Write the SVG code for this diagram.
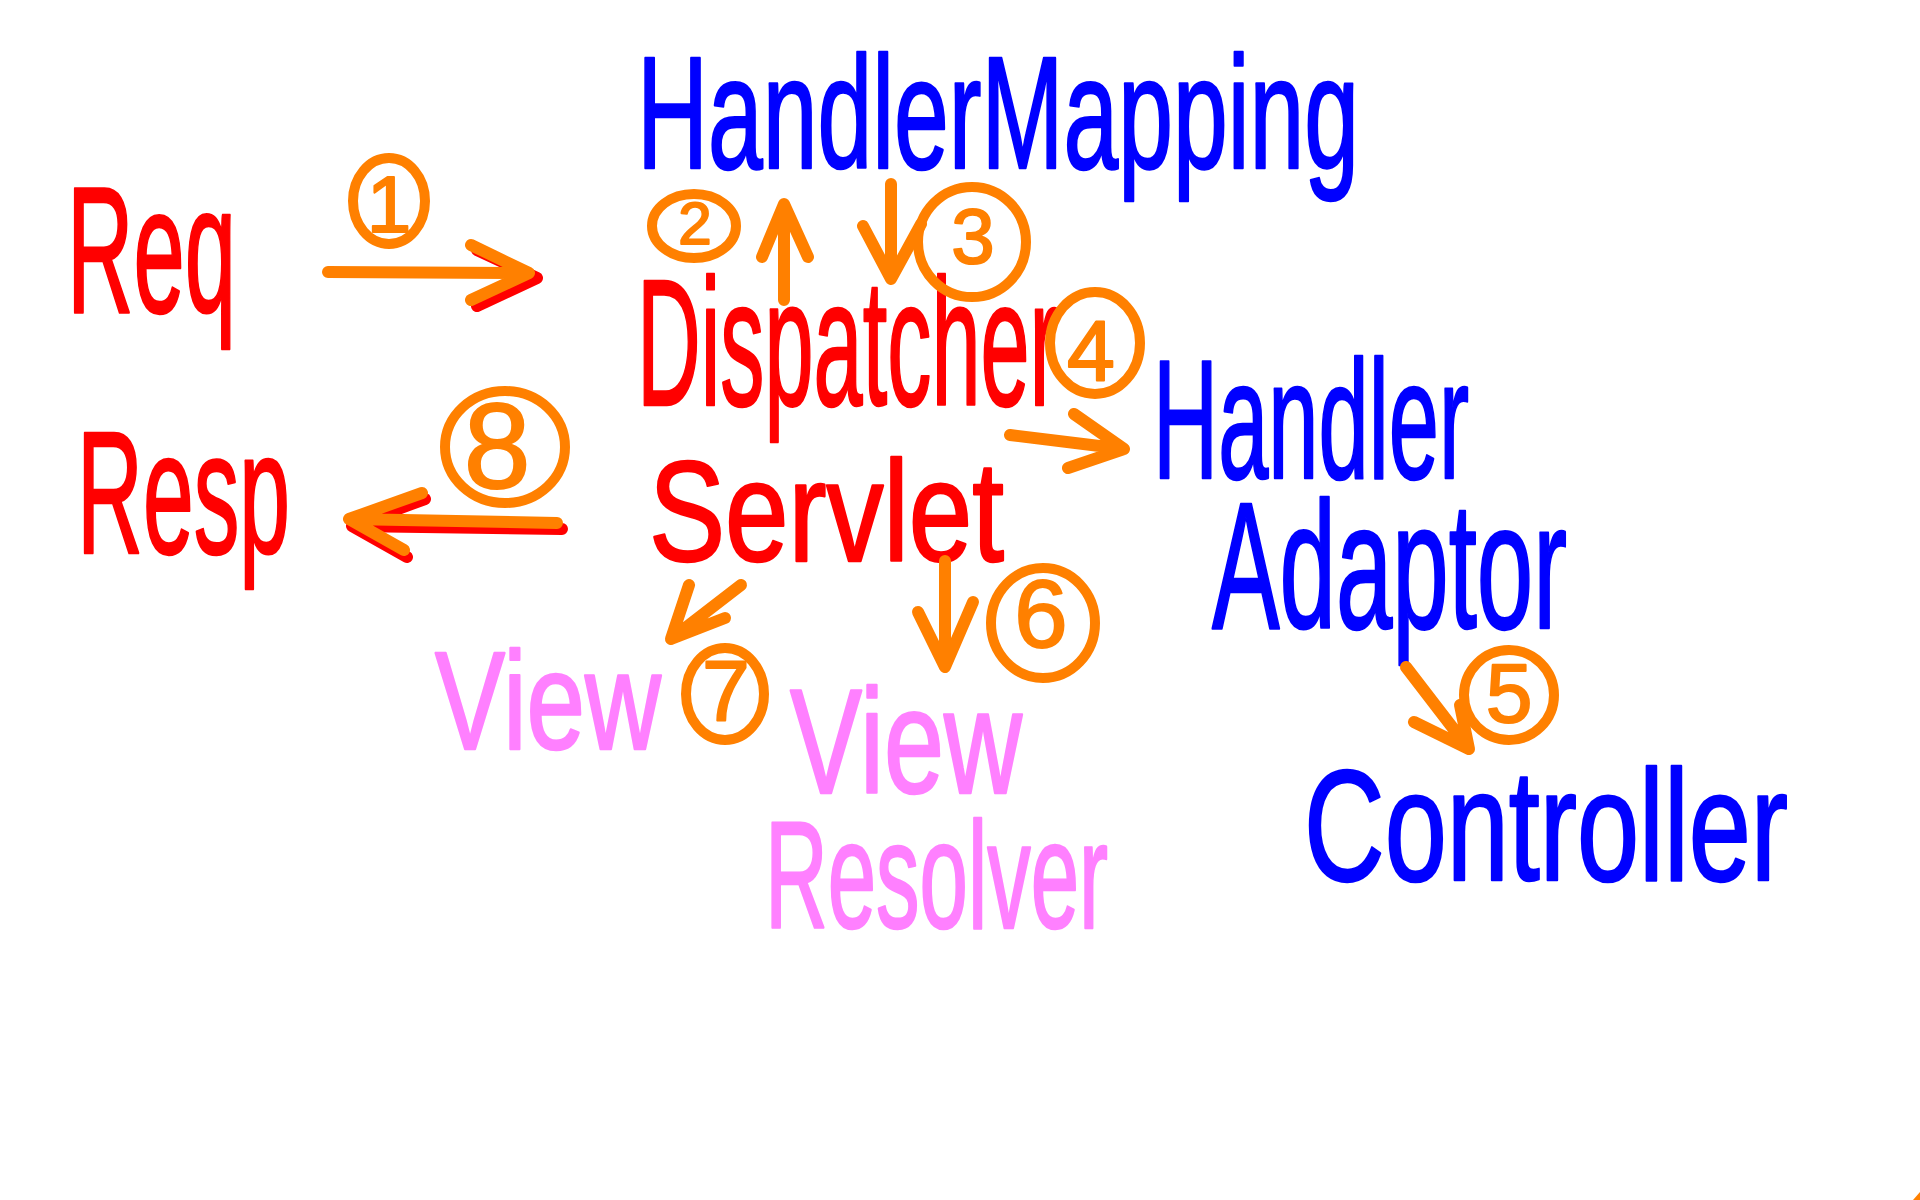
<svg xmlns="http://www.w3.org/2000/svg" width="1920" height="1200" viewBox="0 0 1920 1200">
<style>
text{font-family:"Liberation Sans","DejaVu Sans",sans-serif;stroke-linejoin:round;}
.red{fill:#ff0000;stroke:#ff0000;stroke-width:2.5;}
.blue{fill:#0000ff;stroke:#0000ff;stroke-width:2.5;}
.pink{fill:#ff80ff;stroke:#ff80ff;stroke-width:2.5;}
.num{fill:#ff8000;stroke:#ff8000;stroke-width:2;text-anchor:middle;}
.ring{fill:none;stroke:#ff8000;stroke-width:10;}
.arr{fill:none;stroke:#ff8000;stroke-width:12;stroke-linecap:round;stroke-linejoin:round;}
.sh{fill:none;stroke:#ff0000;stroke-width:12;stroke-linecap:round;stroke-linejoin:round;}
</style>
<rect width="1920" height="1200" fill="#ffffff"/>

<g id="req"><text class="red" x="67" y="312" font-size="180" textLength="169" lengthAdjust="spacingAndGlyphs">Req</text></g>
<g id="resp"><text class="red" x="77" y="553" font-size="175" textLength="213" lengthAdjust="spacingAndGlyphs">Resp</text></g>
<g id="handlermapping"><text class="blue" x="637" y="168" font-size="160" textLength="722" lengthAdjust="spacingAndGlyphs">HandlerMapping</text></g>
<g id="dispatcherservlet">
<text class="red" x="637" y="405" font-size="180" textLength="422" lengthAdjust="spacingAndGlyphs">Dispatcher</text>
<text class="red" x="649" y="561" font-size="142" textLength="355" lengthAdjust="spacingAndGlyphs">Servlet</text>
</g>
<g id="handleradaptor">
<text class="blue" x="1153" y="478" font-size="168" textLength="316" lengthAdjust="spacingAndGlyphs">Handler</text>
<text class="blue" x="1212" y="628" font-size="180" textLength="355" lengthAdjust="spacingAndGlyphs">Adaptor</text>
</g>
<g id="controller"><text class="blue" x="1304" y="880" font-size="158" textLength="484" lengthAdjust="spacingAndGlyphs">Controller</text></g>
<g id="view"><text class="pink" x="435" y="749" font-size="140" textLength="226" lengthAdjust="spacingAndGlyphs">View</text></g>
<g id="viewresolver">
<text class="pink" x="790" y="793" font-size="148" textLength="232" lengthAdjust="spacingAndGlyphs">View</text>
<text class="pink" x="765" y="928" font-size="152" textLength="343" lengthAdjust="spacingAndGlyphs">Resolver</text>
</g>

<g id="connectors">
<path class="sh" d="M477,250 L537,278 L477,306"/>
<path class="arr" d="M328,272 L529,273 M471,245 L529,273 L471,300"/>
<path class="arr" d="M784,300 L784,204 M762,257 L784,204 L808,257"/>
<path class="arr" d="M891,184 L891,279 M863,226 L891,279 L921,224"/>
<path class="arr" d="M1010,435 L1124,449 M1074,414 L1124,449 L1068,468"/>
<path class="arr" d="M1406,667 L1469,749 M1414,722 L1469,749 L1460,705"/>
<path class="arr" d="M945,561 L945,667 M918,612 L945,667 L973,602"/>
<path class="arr" d="M741,585 L671,639 M689,585 L671,639 L725,618"/>
<path class="sh" d="M562,529 L352,526 M425,499 L352,526 L407,557"/>
<path class="arr" d="M557,523 L349,519 M422,493 L349,519 L404,550"/>
</g>

<g id="step1"><ellipse class="ring" cx="389" cy="201" rx="36" ry="43"/><text class="num" x="389" y="232" font-size="80">1</text></g>
<g id="step2"><ellipse class="ring" cx="694" cy="226" rx="42" ry="32"/><text class="num" x="695" y="244" font-size="60">2</text></g>
<g id="step3"><ellipse class="ring" cx="972" cy="242" rx="54" ry="55"/><text class="num" x="973" y="263" font-size="78">3</text></g>
<g id="step4"><ellipse class="ring" cx="1095" cy="343" rx="45" ry="51"/><text class="num" x="1091" y="380" font-size="86">4</text></g>
<g id="step5"><ellipse class="ring" cx="1509" cy="695" rx="45" ry="45"/><text class="num" x="1509" y="722" font-size="84">5</text></g>
<g id="step6"><ellipse class="ring" cx="1043" cy="623" rx="52" ry="55"/><text class="num" x="1041" y="647" font-size="96">6</text></g>
<g id="step7"><ellipse class="ring" cx="725" cy="694" rx="39" ry="46"/><text class="num" x="726" y="720" font-size="86">7</text></g>
<g id="step8"><ellipse class="ring" cx="505" cy="447" rx="60" ry="56"/><text class="num" x="497" y="488" font-size="120">8</text></g>

<path d="M1920,1192 L1913,1200 L1920,1200 Z" fill="#ff8000"/>
</svg>
